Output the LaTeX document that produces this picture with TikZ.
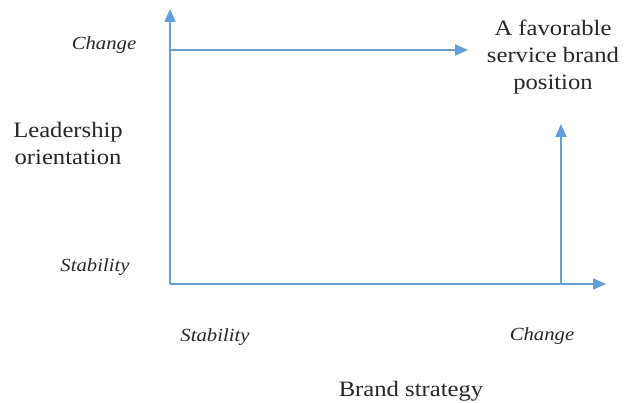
\documentclass[tikz,border=0pt]{standalone}
\usepackage{fontspec}
\setmainfont{Liberation Serif}[FakeStretch=1.12]
\usetikzlibrary{arrows.meta}
\definecolor{axisblue}{RGB}{100,160,215}
\tikzset{
  axis/.style={draw=axisblue, line width=1.8pt, -{Triangle[length=13pt,width=11pt]}},
  lbl/.style={inner sep=0pt, font=\fontsize{22}{27}\selectfont, align=center, text=black!85},
  ilbl/.style={inner sep=0pt, font=\fontsize{18.5}{22}\selectfont\itshape, text=black!85},
}
\begin{document}
\begin{tikzpicture}[x=1pt,y=-1pt]
\useasboundingbox (0,0) rectangle (630,403);
\coordinate (O) at (170,284);
\coordinate (ytop) at (170,9);
\coordinate (xend) at (606,284);
\coordinate (topstart) at (170,50);
\coordinate (topend) at (468,50);
\coordinate (rstart) at (561,284);
\coordinate (rend) at (561,124);
\draw[axis] (O) -- (ytop);
\draw[axis] (O) -- (xend);
\draw[axis] (topstart) -- (topend);
\draw[axis] (rstart) -- (rend);
\node[ilbl] (yc) at (104,45) {Change};
\node[ilbl] (ys) at (95,267) {Stability};
\node[ilbl] (xs) at (215,337) {Stability};
\node[ilbl] (xc) at (542,336) {Change};
\node[lbl] (lo) at (68,143) {Leadership\\orientation};
\node[lbl] (fav) at (553,57) {A favorable\\service brand\\position};
\node[lbl, anchor=base] (bs) at (411,397) {Brand strategy};
\end{tikzpicture}
\end{document}
